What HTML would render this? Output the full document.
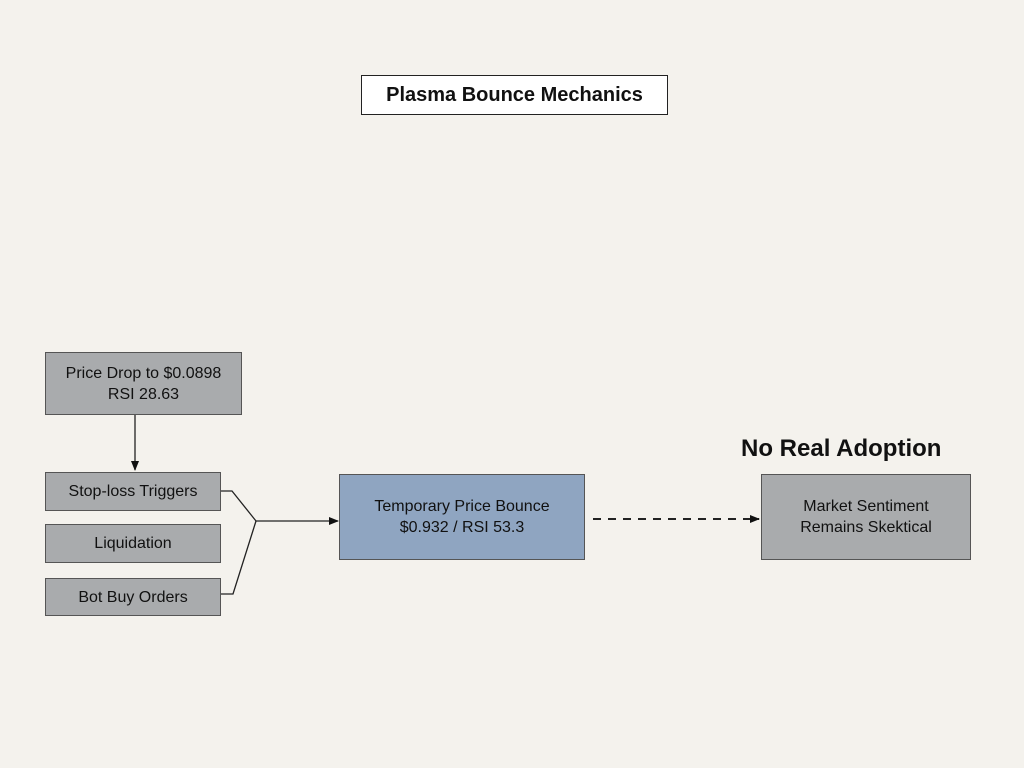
<!DOCTYPE html>
<html><head><style>
body{margin:0;width:1024px;height:768px;background:#f4f2ed;font-family:"Liberation Sans",sans-serif;position:relative;overflow:hidden}
.b{position:absolute;box-sizing:border-box;border:1.5px solid #555;background:#a9abad;color:#111;display:flex;align-items:center;justify-content:center;text-align:center;font-size:16px;line-height:21px}
</style></head><body>
<div class="b" style="left:361px;top:75px;width:307px;height:40px;background:#fff;border:1.5px solid #222;font-weight:bold;font-size:20px">Plasma Bounce Mechanics</div>
<div class="b" style="left:45px;top:352px;width:197px;height:63px">Price Drop to $0.0898<br>RSI 28.63</div>
<div class="b" style="left:45px;top:472px;width:176px;height:39px">Stop-loss Triggers</div>
<div class="b" style="left:45px;top:524px;width:176px;height:39px">Liquidation</div>
<div class="b" style="left:45px;top:578px;width:176px;height:38px">Bot Buy Orders</div>
<div class="b" style="left:339px;top:474px;width:246px;height:86px;background:#8fa5c1">Temporary Price Bounce<br>$0.932 / RSI 53.3</div>
<div class="b" style="left:761px;top:474px;width:210px;height:86px">Market Sentiment<br>Remains Skektical</div>
<div style="position:absolute;left:741px;top:435px;font-weight:bold;font-size:24px;color:#111">No Real Adoption</div>
<svg width="1024" height="768" style="position:absolute;left:0;top:0">
<defs><marker id="a" markerWidth="10" markerHeight="10" refX="9" refY="5" orient="auto" markerUnits="userSpaceOnUse"><path d="M0,1 L10,5 L0,9z" fill="#111"/></marker></defs>
<g stroke="#222" stroke-width="1.3" fill="none">
<line x1="135" y1="415" x2="135" y2="470" marker-end="url(#a)"/>
<polyline points="221,491 232,491 256,521"/>
<polyline points="221,594 233,594 256,521"/>
<line x1="256" y1="521" x2="338" y2="521" marker-end="url(#a)"/>
<line x1="593" y1="519" x2="759" y2="519" stroke-width="2" stroke-dasharray="8,7" marker-end="url(#a)"/>
</g></svg>
</body></html>
